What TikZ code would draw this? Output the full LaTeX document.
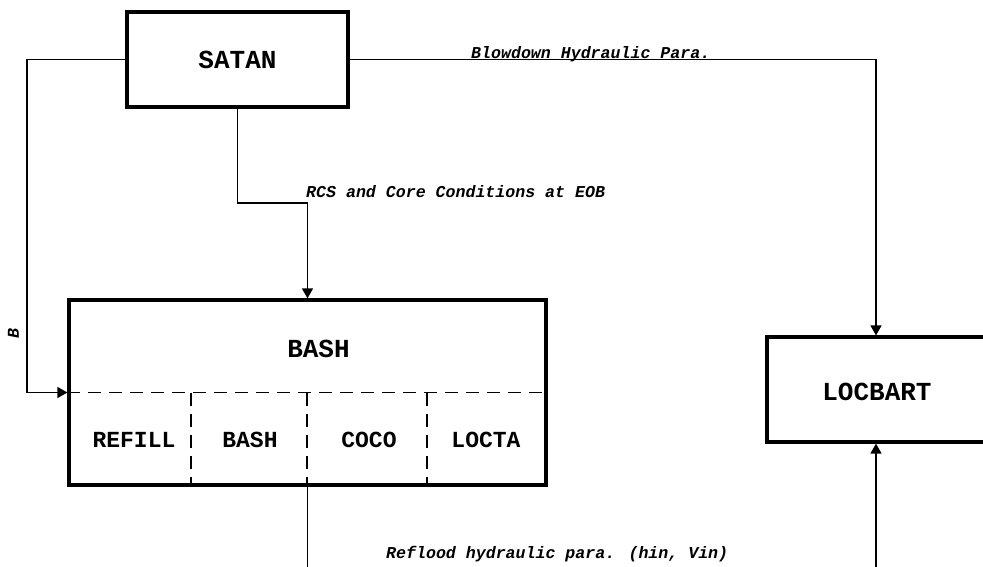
\documentclass[tikz,border=0pt]{standalone}
\usepackage{fontspec}
\setmainfont{Liberation Mono}
\usetikzlibrary{arrows.meta}
\tikzset{
  mainbox/.style={draw, line width=3.2pt, inner sep=0pt},
  titletxt/.style={font=\fontsize{26}{26}\selectfont\bfseries, inner sep=0pt},
  subtxt/.style={font=\fontsize{23}{23}\selectfont\bfseries, inner sep=0pt},
  lbltxt/.style={font=\fontsize{16.6}{16.6}\selectfont\bfseries\itshape, inner sep=0pt},
  conn/.style={line width=1.4pt},
  arr/.style={conn, -{Triangle[length=10pt,width=11pt]}},
  sep/.style={line width=1.4pt, dash pattern=on 13pt off 8pt}
}
\begin{document}
\begin{tikzpicture}[x=1pt, y=-1pt]
\useasboundingbox (0,0) rectangle (983,566);
\clip (0,0) rectangle (983,566);
% boxes
\node[mainbox, minimum width=221pt, minimum height=95pt] (satan) at (237.5,59.5) {};
\node[titletxt] (satanT) at (237.5,59.5) {SATAN};
\node[mainbox, minimum width=477pt, minimum height=185pt] (bash) at (307.5,392.5) {};
\node[titletxt] (bashT) at (318.5,349) {BASH};
\node[mainbox, minimum width=218pt, minimum height=105pt] (locbart) at (876,389.5) {};
\node[titletxt] (locbartT) at (877,392) {LOCBART};
% inner dashed separators
\coordinate (v1) at (191,392.5);
\coordinate (v2) at (307,392.5);
\coordinate (v3) at (427,392.5);
\draw[sep] (bash.west) -- (bash.east);
\draw[sep] (v1) -- (v1 |- bash.south);
\draw[sep] (v2) -- (v2 |- bash.south);
\draw[sep] (v3) -- (v3 |- bash.south);
\node[subtxt] (refill) at (134,440) {REFILL};
\node[subtxt] (bashsub) at (250,440) {BASH};
\node[subtxt] (coco) at (369,440) {COCO};
\node[subtxt] (locta) at (486,440) {LOCTA};
% connectors
\coordinate (lc) at (27,59.5);
\draw[arr] (satan.west) -- (lc) |- (bash.west);
\node[lbltxt, rotate=90] (lblB) at (13.5,334) {B};
\draw[arr] (satan.east) -| (locbart.north);
\node[lbltxt, anchor=base west] (lblBlow) at (471,58) {Blowdown Hydraulic Para.};
\coordinate (mc) at (237.5,203);
\draw[arr] (satan.south) -- (mc) -| (bash.north);
\node[lbltxt, anchor=base west] (lblRCS) at (306,197) {RCS and Core Conditions at EOB};
\coordinate (bot) at (0,620);
\draw[arr] (bash.south) -- (bash.south |- bot) -| (locbart.south);
\node[lbltxt, anchor=base west] (lblRef) at (386,558) {Reflood hydraulic para. (hin, Vin)};
\end{tikzpicture}
\end{document}
